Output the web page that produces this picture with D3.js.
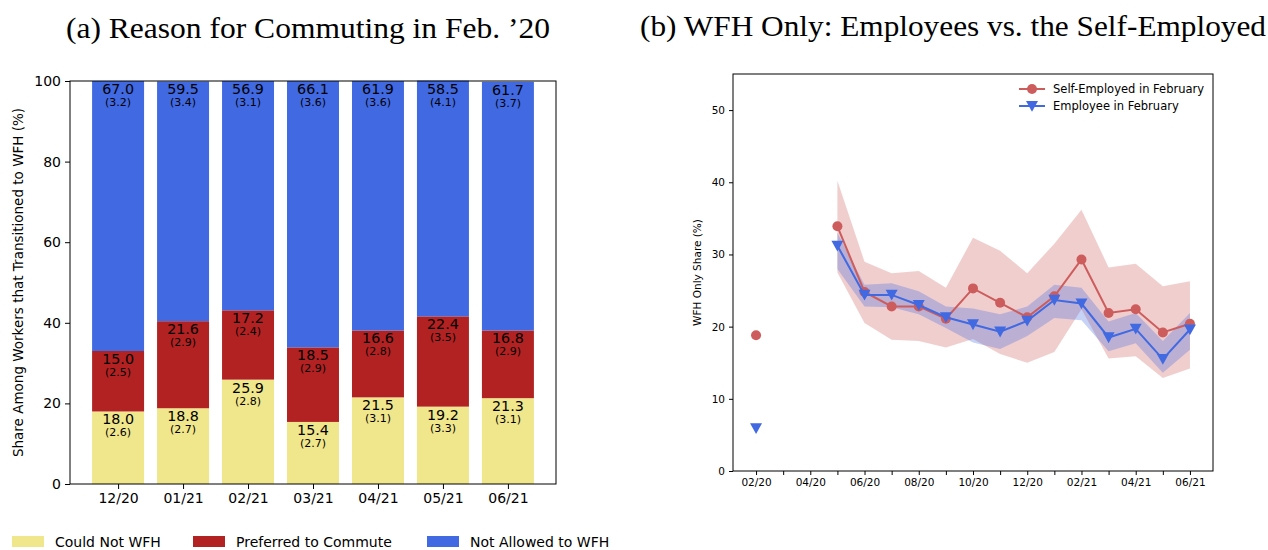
<!DOCTYPE html>
<html><head><meta charset="utf-8">
<script src="https://cdn.jsdelivr.net/npm/d3@7"></script>
<style>
body{margin:0;background:#fff;}
svg{display:block;}
text{font-family:"DejaVu Sans",sans-serif;fill:#000;}
.title{font-family:"Liberation Serif","DejaVu Serif",serif;}
</style></head>
<body>
<svg id="c" width="1268" height="550"></svg>
<script>
// ---------- Panel (a) data ----------
const barCats = ["12/20","01/21","02/21","03/21","04/21","05/21","06/21"];
const couldNot = [18.0, 18.8, 25.9, 15.4, 21.5, 19.2, 21.3];
const couldNotSE = [2.6, 2.7, 2.8, 2.7, 3.1, 3.3, 3.1];
const preferred = [15.0, 21.6, 17.2, 18.5, 16.6, 22.4, 16.8];
const preferredSE = [2.5, 2.9, 2.4, 2.9, 2.8, 3.5, 2.9];
const notAllowed = [67.0, 59.5, 56.9, 66.1, 61.9, 58.5, 61.7];
const notAllowedSE = [3.2, 3.4, 3.1, 3.6, 3.6, 4.1, 3.7];
const barSeriesNames = ["Could Not WFH", "Preferred to Commute", "Not Allowed to WFH"];
const barYTicks = [0, 20, 40, 60, 80, 100];

// ---------- Panel (b) data ----------
const months = ["02/20","03/20","04/20","05/20","06/20","07/20","08/20","09/20","10/20","11/20","12/20","01/21","02/21","03/21","04/21","05/21","06/21"];
const selfEmp   = [18.8, null, null, 33.9, 24.8, 22.8, 22.8, 21.1, 25.3, 23.3, 21.3, 24.2, 29.3, 21.9, 22.4, 19.2, 20.4];
const selfLo    = [null, null, null, 27.5, 20.5, 18.2, 18.0, 17.1, 18.3, 16.2, 15.0, 16.5, 22.4, 15.6, 15.9, 12.9, 14.2];
const selfHi    = [null, null, null, 40.2, 29.0, 27.4, 27.7, 25.4, 32.3, 30.5, 27.4, 31.5, 36.2, 28.2, 28.7, 25.6, 26.3];
const employee  = [5.9, null, null, 31.2, 24.4, 24.4, 23.0, 21.3, 20.3, 19.3, 20.8, 23.7, 23.2, 18.5, 19.7, 15.5, 19.6];
const empLo     = [null, null, null, 28.0, 22.8, 22.7, 21.7, 19.8, 17.8, 16.9, 18.7, 21.2, 20.9, 16.6, 17.7, 13.6, 16.8];
const empHi     = [null, null, null, 33.0, 25.8, 26.0, 24.9, 22.8, 22.5, 21.7, 22.8, 25.8, 25.4, 20.7, 21.9, 18.0, 21.9];
const lineNames = ["Self-Employed in February", "Employee in February"];
const lineYTicks = [0, 10, 20, 30, 40, 50];

const svg = d3.select("#c");
svg.append("rect").attr("width",1268).attr("height",550).attr("fill","#fff");

// ================= Panel (a) =================
const A = {l:70, r:556, t:81, b:484};
const xa = d3.scaleLinear().domain([-0.74, 6.74]).range([A.l, A.r]);
const ya = d3.scaleLinear().domain([0, 100]).range([A.b, A.t]);
const barW = xa(0.4) - xa(-0.4);
const barColors = ["#F0E68C", "#B22222", "#4169E1"];
const stacks = [couldNot, preferred, notAllowed];
const ses = [couldNotSE, preferredSE, notAllowedSE];

const ga = svg.append("g");
stacks.forEach((vals, s) => {
  vals.forEach((v, i) => {
    let base = 0;
    for (let k = 0; k < s; k++) base += stacks[k][i];
    const top = base + v;
    ga.append("rect")
      .attr("x", xa(i) - barW/2).attr("width", barW)
      .attr("y", ya(top)).attr("height", ya(base) - ya(top))
      .attr("fill", barColors[s]);
  });
});
stacks.forEach((vals, s) => {
  vals.forEach((v, i) => {
    let base = 0;
    for (let k = 0; k < s; k++) base += stacks[k][i];
    const top = Math.min(base + v, 100);
    ga.append("text").attr("x", xa(i)).attr("y", ya(top) + 13)
      .attr("text-anchor","middle").attr("font-size", 14.3).text(v.toFixed(1));
    ga.append("text").attr("x", xa(i)).attr("y", ya(top) + 25)
      .attr("text-anchor","middle").attr("font-size", 11).text("(" + ses[s][i].toFixed(1) + ")");
  });
});
// axes a
const axA_x = d3.axisBottom(xa).tickValues(d3.range(barCats.length)).tickFormat(i => barCats[i]).tickSize(5).tickPadding(4);
const axA_y = d3.axisLeft(ya).tickValues(barYTicks).tickSize(5).tickPadding(4);
const gax = svg.append("g").attr("transform", `translate(0,${A.b})`).call(axA_x);
const gay = svg.append("g").attr("transform", `translate(${A.l},0)`).call(axA_y);
[gax, gay].forEach(g => {
  g.select(".domain").remove();
  g.selectAll("text").attr("font-size", 14).attr("font-family","DejaVu Sans").attr("fill","#000");
  g.selectAll("line").attr("stroke","#000");
});
svg.append("rect").attr("x",A.l).attr("y",A.t).attr("width",A.r-A.l).attr("height",A.b-A.t)
  .attr("fill","none").attr("stroke","#000").attr("stroke-width",1);
svg.append("text").attr("transform", `translate(23,${(A.t+A.b)/2}) rotate(-90)`)
  .attr("text-anchor","middle").attr("font-size",13.5)
  .text("Share Among Workers that Transitioned to WFH (%)");
svg.append("text").attr("class","title").attr("x", 66).attr("y", 38)
  .attr("font-size", 30).attr("textLength", 484).attr("lengthAdjust","spacingAndGlyphs")
  .text("(a) Reason for Commuting in Feb. \u201920");
// legend a
const legX = [12, 193, 427];
barSeriesNames.forEach((n, k) => {
  svg.append("rect").attr("x", legX[k]).attr("y", 536).attr("width", 32).attr("height", 11).attr("fill", barColors[k]);
  svg.append("text").attr("x", legX[k] + 43).attr("y", 547).attr("font-size", 14).text(n);
});

// ================= Panel (b) =================
const B = {l:733, r:1213, t:74, b:471};
const xb = d3.scaleLinear().domain([-0.85, 16.85]).range([B.l, B.r]);
const yb = d3.scaleLinear().domain([0, 55]).range([B.b, B.t]);
const redC = "#CD5C5C", blueC = "#4169E1";
const gb = svg.append("g");
const idx = d3.range(months.length);
const area = (lo, hi) => d3.area().defined(i => lo[i] != null && hi[i] != null)
  .x(i => xb(i)).y0(i => yb(lo[i])).y1(i => yb(hi[i]));
gb.append("path").attr("d", area(selfLo, selfHi)(idx)).attr("fill", redC).attr("fill-opacity", 0.3);
gb.append("path").attr("d", area(empLo, empHi)(idx)).attr("fill", blueC).attr("fill-opacity", 0.3);
const line = vals => d3.line().defined(i => vals[i] != null).x(i => xb(i)).y(i => yb(vals[i]));
const tri = (cx, cy, s) => `M${cx-s},${cy-s*0.85}L${cx+s},${cy-s*0.85}L${cx},${cy+s*0.95}Z`;

gb.append("path").attr("d", line(selfEmp)(idx)).attr("fill","none").attr("stroke", redC).attr("stroke-width", 2);
idx.filter(i => selfEmp[i] != null).forEach(i => {
  gb.append("circle").attr("cx", xb(i)).attr("cy", yb(selfEmp[i])).attr("r", 5).attr("fill", redC);
});
gb.append("path").attr("d", line(employee)(idx)).attr("fill","none").attr("stroke", blueC).attr("stroke-width", 2);
idx.filter(i => employee[i] != null).forEach(i => {
  gb.append("path").attr("d", tri(xb(i), yb(employee[i]), 6)).attr("fill", blueC);
});

const axB_x = d3.axisBottom(xb).tickValues(idx).tickFormat(i => i % 2 === 0 ? months[i] : "").tickSize(4).tickPadding(4);
const axB_y = d3.axisLeft(yb).tickValues(lineYTicks).tickSize(4).tickPadding(4);
const gbx = svg.append("g").attr("transform", `translate(0,${B.b})`).call(axB_x);
const gby = svg.append("g").attr("transform", `translate(${B.l},0)`).call(axB_y);
[gbx, gby].forEach(g => {
  g.select(".domain").remove();
  g.selectAll("text").attr("font-size", 10.5).attr("font-family","DejaVu Sans").attr("fill","#000");
  g.selectAll("line").attr("stroke","#000");
});
svg.append("rect").attr("x",B.l).attr("y",B.t).attr("width",B.r-B.l).attr("height",B.b-B.t)
  .attr("fill","none").attr("stroke","#000").attr("stroke-width",1);
svg.append("text").attr("transform", `translate(701,${(B.t+B.b)/2}) rotate(-90)`)
  .attr("text-anchor","middle").attr("font-size",10.5).text("WFH Only Share (%)");
svg.append("text").attr("class","title").attr("x", 640).attr("y", 36)
  .attr("font-size", 30).attr("textLength", 626).attr("lengthAdjust","spacingAndGlyphs")
  .text("(b) WFH Only: Employees vs. the Self-Employed");
// legend b
[[redC, "c"], [blueC, "t"]].forEach(([col, m], k) => {
  const ly = 89 + k * 17;
  svg.append("line").attr("x1", 1019).attr("x2", 1045).attr("y1", ly).attr("y2", ly).attr("stroke", col).attr("stroke-width", 2);
  if (m === "c") svg.append("circle").attr("cx", 1032).attr("cy", ly).attr("r", 5).attr("fill", col);
  else svg.append("path").attr("d", tri(1032, ly, 6)).attr("fill", col);
  svg.append("text").attr("x", 1053).attr("y", ly + 4).attr("font-size", 11.5).text(lineNames[k]);
});
</script>
</body></html>
